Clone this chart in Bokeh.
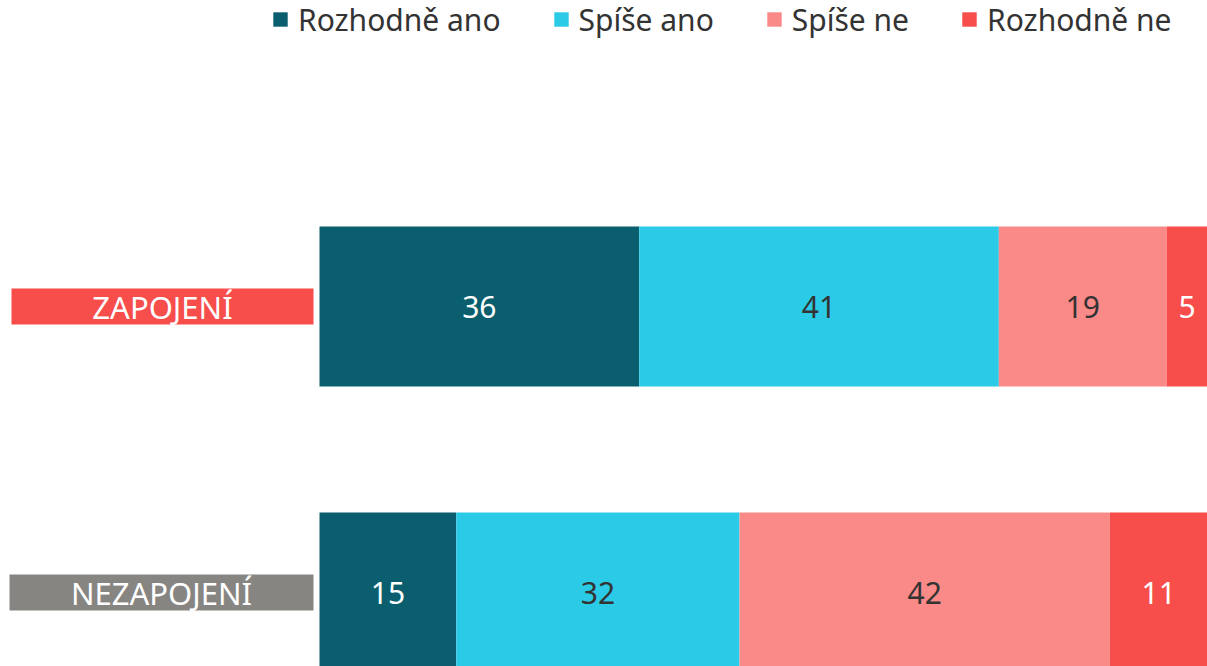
from bokeh.plotting import figure
from bokeh.models import Legend, LegendItem, Range1d, ColumnDataSource
from bokeh.core.properties import value
from bokeh.embed import file_html
from bokeh.resources import INLINE

# ---- data ----
categories = ["ZAPOJENÍ", "NEZAPOJENÍ"]
series = ["Rozhodně ano", "Spíše ano", "Spíše ne", "Rozhodně ne"]
rozhodne_ano = [36.0, 15.4]
spise_ano = [40.5, 31.9]
spise_ne = [18.9, 41.7]
rozhodne_ne = [4.6, 11.0]

# ---- styles ----
colors = ["#0B5E6E", "#2BCBE8", "#FA8A88", "#F74D4B"]
label_colors = ["#FFFFFF", "#333333", "#333333", "#FFFFFF"]
cat_bg = ["#F74D4B", "#878582"]
FONT = "Noto Sans"

W, H = 1207, 666
bar_left_px = 319          # frame px where bars start
px_per_unit = (W - bar_left_px) / 100.0
ypos = [1, 0]

p = figure(width=W, height=H, output_backend="svg", toolbar_location=None,
           x_axis_type=None, y_axis_type=None, min_border=0,
           x_range=Range1d(-bar_left_px / px_per_unit, 100),
           y_range=Range1d(-74 / 286, -74 / 286 + H / 286))
p.outline_line_color = None
p.grid.visible = False
p.background_fill_color = "white"
p.border_fill_color = "white"

all_series = [rozhodne_ano, spise_ano, spise_ne, rozhodne_ne]
left = [0.0] * len(categories)
items = []
for vals, name, col, lcol in zip(all_series, series, colors, label_colors):
    right = [l + v for l, v in zip(left, vals)]
    src = ColumnDataSource(dict(
        y=ypos, left=left, right=right,
        mid=[(l + r) / 2 for l, r in zip(left, right)],
        lab=[str(int(v + 0.5)) for v in vals]))
    r = p.hbar(y="y", left="left", right="right", height=160 / 286,
               fill_color=col, line_color=None, source=src)
    p.text(x="mid", y="y", text="lab", source=src, text_align="center",
           text_baseline="middle", text_font=value(FONT),
           text_font_size="30px", text_color=lcol)
    items.append(LegendItem(label=name, renderers=[r]))
    left = right

# category label boxes
box_centers_px = [162, 161]
box_x = [(c - bar_left_px) / px_per_unit for c in box_centers_px]
p.rect(x=box_x, y=ypos, width=[302, 304], height=36,
       width_units="screen", height_units="screen",
       fill_color=cat_bg, line_color=None)
p.text(x=box_x, y=ypos, text=categories, text_align="center",
       text_baseline="middle", text_font=value(FONT),
       text_font_size="31px", text_color="white")

legend = Legend(items=items, orientation="horizontal",
                location=(271, H - 21.5 - 18),
                border_line_color=None, background_fill_alpha=0,
                label_text_font=FONT, label_text_font_size="30px",
                label_text_color="#333333",
                glyph_width=18, glyph_height=18, label_standoff=9,
                spacing=51, padding=0, margin=0, label_height=36)
p.add_layout(legend)

open("out.html", "w").write(file_html(p, INLINE))
